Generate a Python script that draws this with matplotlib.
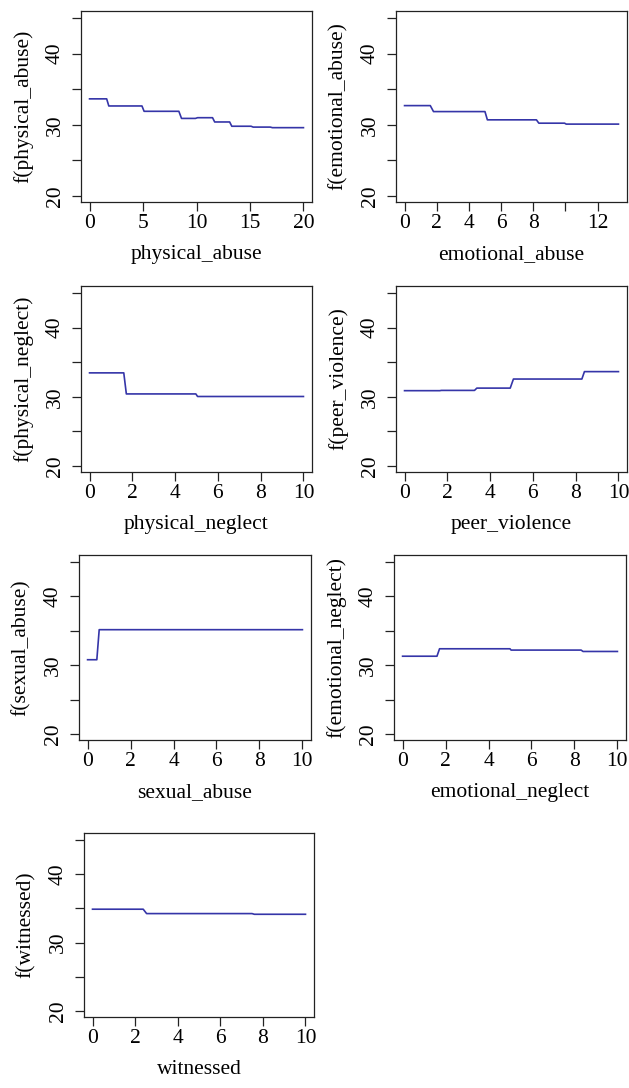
#!/usr/bin/env python3
"""Partial dependence of the fitted model on each adversity score (step curves)."""

import matplotlib

matplotlib.use("Agg")
import matplotlib.pyplot as plt

plt.rcParams["font.family"] = ["Liberation Serif", "DejaVu Serif"]

W_PX, H_PX = 629, 1088
LINE_COLOUR = "#3535a8"
FONT_SIZE = 15.5

# each curve: constant levels, with the x span each level covers
physical_abuse_start = [0.0, 1.8, 5.1, 8.6, 10.1, 11.7, 13.3, 15.3, 17.1]
physical_abuse_end = [1.6, 4.9, 8.35, 9.9, 11.5, 13.1, 15.1, 16.9, 20.0]
physical_abuse_level = [33.65, 32.65, 31.9, 30.9, 31.0, 30.4, 29.8, 29.68, 29.6]

emotional_abuse_start = [0.0, 1.8, 5.15, 8.35, 10.05]
emotional_abuse_end = [1.6, 5.0, 8.2, 9.95, 13.3]
emotional_abuse_level = [32.7, 31.86, 30.7, 30.23, 30.1]

physical_neglect_start = [0.0, 1.72, 5.05]
physical_neglect_end = [1.6, 4.97, 10.0]
physical_neglect_level = [33.46, 30.42, 30.05]

peer_violence_start = [0.0, 1.72, 3.38, 5.09, 8.41]
peer_violence_end = [1.65, 3.27, 4.94, 8.29, 10.0]
peer_violence_level = [30.89, 30.93, 31.26, 32.57, 33.64]

sexual_abuse_start = [0.0, 0.54]
sexual_abuse_end = [0.43, 10.0]
sexual_abuse_level = [30.8, 35.16]

emotional_neglect_start = [0.0, 1.72, 5.05, 8.4]
emotional_neglect_end = [1.6, 5.0, 8.31, 10.0]
emotional_neglect_level = [31.31, 32.39, 32.2, 32.0]

witnessed_start = [0.0, 2.54, 7.6]
witnessed_end = [2.38, 7.49, 10.0]
witnessed_level = [34.88, 34.24, 34.14]

Y_TICKS = [20, 25, 30, 35, 40, 45]
Y_TICK_LABELS = ["20", "", "30", "", "40", ""]

# name, starts, ends, levels, x ticks, x tick labels, x max, box (l, t, r, b) px
PANELS = [
    ("physical_abuse", physical_abuse_start, physical_abuse_end, physical_abuse_level,
     [0, 5, 10, 15, 20], ["0", "5", "10", "15", "20"], 20.0, (81, 11, 312, 202)),
    ("emotional_abuse", emotional_abuse_start, emotional_abuse_end, emotional_abuse_level,
     [0, 2, 4, 6, 8, 10, 12], ["0", "2", "4", "6", "8", "", "12"], 13.3, (396, 11, 627, 202)),
    ("physical_neglect", physical_neglect_start, physical_neglect_end, physical_neglect_level,
     [0, 2, 4, 6, 8, 10], ["0", "2", "4", "6", "8", "10"], 10.0, (81, 286, 312, 472)),
    ("peer_violence", peer_violence_start, peer_violence_end, peer_violence_level,
     [0, 2, 4, 6, 8, 10], ["0", "2", "4", "6", "8", "10"], 10.0, (396, 286, 627, 472)),
    ("sexual_abuse", sexual_abuse_start, sexual_abuse_end, sexual_abuse_level,
     [0, 2, 4, 6, 8, 10], ["0", "2", "4", "6", "8", "10"], 10.0, (79, 555, 311, 740)),
    ("emotional_neglect", emotional_neglect_start, emotional_neglect_end, emotional_neglect_level,
     [0, 2, 4, 6, 8, 10], ["0", "2", "4", "6", "8", "10"], 10.0, (394, 555, 626, 740)),
    ("witnessed", witnessed_start, witnessed_end, witnessed_level,
     [0, 2, 4, 6, 8, 10], ["0", "2", "4", "6", "8", "10"], 10.0, (84, 833, 314, 1017)),
]


def step_vertices(starts, ends, levels):
    xs, ys = [], []
    for a, b, y in zip(starts, ends, levels):
        xs += [a, b]
        ys += [y, y]
    return xs, ys


def main() -> None:
    fig = plt.figure(figsize=(W_PX / 100, H_PX / 100), dpi=100)

    for name, starts, ends, levels, xticks, xlabels, xmax, box in PANELS:
        left, top, right, bottom = box
        w, h = right - left, bottom - top
        ax = fig.add_axes((left / W_PX, 1 - bottom / H_PX, w / W_PX, h / H_PX))

        xs, ys = step_vertices(starts, ends, levels)
        ax.plot(xs, ys, color=LINE_COLOUR, lw=1.2)

        pad = 0.04 * xmax
        ax.set_xlim(-pad, xmax + pad)
        ax.set_ylim(19.15, 46.0)
        ax.set_xticks(xticks)
        ax.set_xticklabels(xlabels, fontsize=FONT_SIZE)
        ax.set_yticks(Y_TICKS)
        ax.set_yticklabels(Y_TICK_LABELS, fontsize=FONT_SIZE, rotation=90, va="center")

        ax.tick_params(direction="out", length=6.5, width=0.9, color="#222222")
        ax.tick_params(axis="x", pad=2)
        ax.tick_params(axis="y", pad=5)
        for spine in ax.spines.values():
            spine.set_linewidth(0.9)
            spine.set_color("#222222")

        ax.set_xlabel(name, fontsize=FONT_SIZE)
        ax.set_ylabel(f"f({name})", fontsize=FONT_SIZE)
        ax.xaxis.set_label_coords(0.5, -(245 - 202) / h)
        ax.yaxis.set_label_coords((33 - 81) / w, 0.5)

    fig.savefig("out.png", dpi=100)
    plt.close(fig)


if __name__ == "__main__":
    main()
